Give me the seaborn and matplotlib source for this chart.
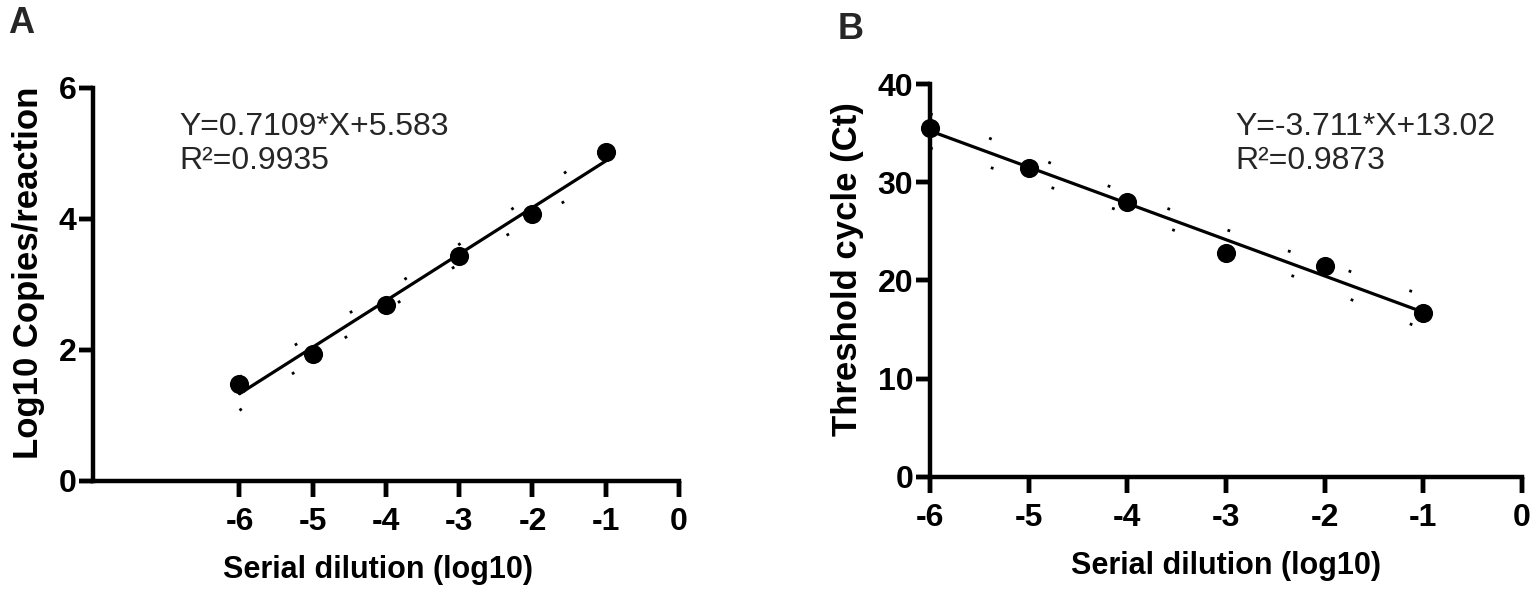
import numpy as np
import matplotlib
matplotlib.use("Agg")
import matplotlib.pyplot as plt
import matplotlib.lines as mlines
import matplotlib.transforms as mtransforms
import seaborn as sns

sns.set_style("ticks")
plt.rcParams['font.family'] = ['Liberation Sans', 'DejaVu Sans']
plt.rcParams['axes.unicode_minus'] = False

# data
dilution = [-6, -5, -4, -3, -2, -1]
log_copies = [1.48, 1.94, 2.69, 3.44, 4.08, 5.02]
ct_values = [35.5, 31.5, 28.0, 22.8, 21.5, 16.7]

x_ticks = [-6, -5, -4, -3, -2, -1, 0]
y_ticks_a = [0, 2, 4, 6]
y_ticks_b = [0, 10, 20, 30, 40]

eq_a = "Y=0.7109*X+5.583\nR\u00b2=0.9935"
eq_b = "Y=-3.711*X+13.02\nR\u00b2=0.9873"


def conf_band(x, y):
    # 95% confidence band of the linear fit
    x = np.asarray(x, float)
    y = np.asarray(y, float)
    b, a = np.polyfit(x, y, 1)
    res = y - (a + b * x)
    n = len(x)
    s = np.sqrt(np.sum(res ** 2) / (n - 2))
    t = 2.776  # t(0.975, 4)
    xs = np.linspace(x.min(), x.max(), 200)
    yh = a + b * xs
    half = t * s * np.sqrt(1 / n + (xs - x.mean()) ** 2 / np.sum((x - x.mean()) ** 2))
    return xs, yh - half, yh + half


def draw(ax, x, y, xlim, ylim, yticks, ylabel):
    sns.regplot(x=x, y=y, ax=ax, ci=None, color="black",
                scatter_kws=dict(s=190, alpha=1, linewidths=0, clip_on=False),
                line_kws=dict(lw=2.3))
    xs, lo, hi = conf_band(x, y)
    for band in (lo, hi):
        ax.plot(xs, band, color="black", lw=2, linestyle=(0, (1, 22)))
    ax.set_xlim(*xlim)
    ax.set_ylim(*ylim)
    ax.set_xticks(x_ticks)
    ax.set_yticks(yticks)
    ax.spines["top"].set_visible(False)
    ax.spines["right"].set_visible(False)
    for side in ("left", "bottom"):
        ax.spines[side].set_linewidth(3.2)
        ax.spines[side].set_edgecolor("black")
    ax.set_xlabel("Serial dilution (log10)", fontsize=22, fontweight="bold",
                  color="black", labelpad=13)
    ax.set_ylabel(ylabel, fontsize=25, fontweight="bold", color="black", labelpad=10)
    ax.yaxis.label.set_y(0.53)


fig, (ax1, ax2) = plt.subplots(1, 2, figsize=(15.35, 5.92), dpi=100)

draw(ax1, dilution, log_copies, (-8, 0), (0, 6), y_ticks_a, "Log10 Copies/reaction")
ax1.xaxis.label.set_x(0.487)
ax1.text(-6.82, 5.64, eq_a, fontsize=23, va="top", ha="left", linespacing=1.2)

draw(ax2, dilution, ct_values, (-6, 0), (0, 40), y_ticks_b, "Threshold cycle (Ct)")
ax2.text(-2.91, 37.2, eq_b, fontsize=23, va="top", ha="left", linespacing=1.2)

ax1.set_position([0.0606, 0.1875, 0.3817, 0.6639])
ax2.set_position([0.6059, 0.1943, 0.3856, 0.6638])

for ax in (ax1, ax2):
    ax.tick_params(axis="x", which="major", bottom=True, direction="out",
                   length=11.5, width=3.2, color="black", labelcolor="black",
                   labelsize=23, pad=7)
    ax.tick_params(axis="y", which="major", left=True, direction="out",
                   length=10, width=3.2, color="black", labelcolor="black",
                   labelsize=23, pad=2)
    for tk in ax.xaxis.get_major_ticks() + ax.yaxis.get_major_ticks():
        tk.label1.set_fontweight("bold")

    # tick marks added at figure level, placed through the axes' own transforms
    pos = ax.get_position()
    h_px = pos.height * fig.get_figheight() * fig.dpi
    w_px = pos.width * fig.get_figwidth() * fig.dpi
    xlen = 11.5 * fig.dpi / 72 / h_px
    ylen = 10 * fig.dpi / 72 / w_px
    tx = mtransforms.blended_transform_factory(ax.transData, ax.transAxes)
    ty = mtransforms.blended_transform_factory(ax.transAxes, ax.transData)
    for v in ax.get_xticks():
        fig.add_artist(mlines.Line2D([v, v], [-xlen, 0], transform=tx, color="black",
                                     linewidth=3.2, solid_capstyle="butt",
                                     clip_on=False, zorder=10))
    for v in ax.get_yticks():
        fig.add_artist(mlines.Line2D([-ylen, 0], [v, v], transform=ty, color="black",
                                     linewidth=3.2, solid_capstyle="butt",
                                     clip_on=False, zorder=10))

fig.text(0.005, 0.99, "A", fontsize=26, fontweight="bold", va="top", ha="left")
fig.text(0.546, 0.98, "B", fontsize=26, fontweight="bold", va="top", ha="left")

fig.savefig("out.png", dpi=100)
